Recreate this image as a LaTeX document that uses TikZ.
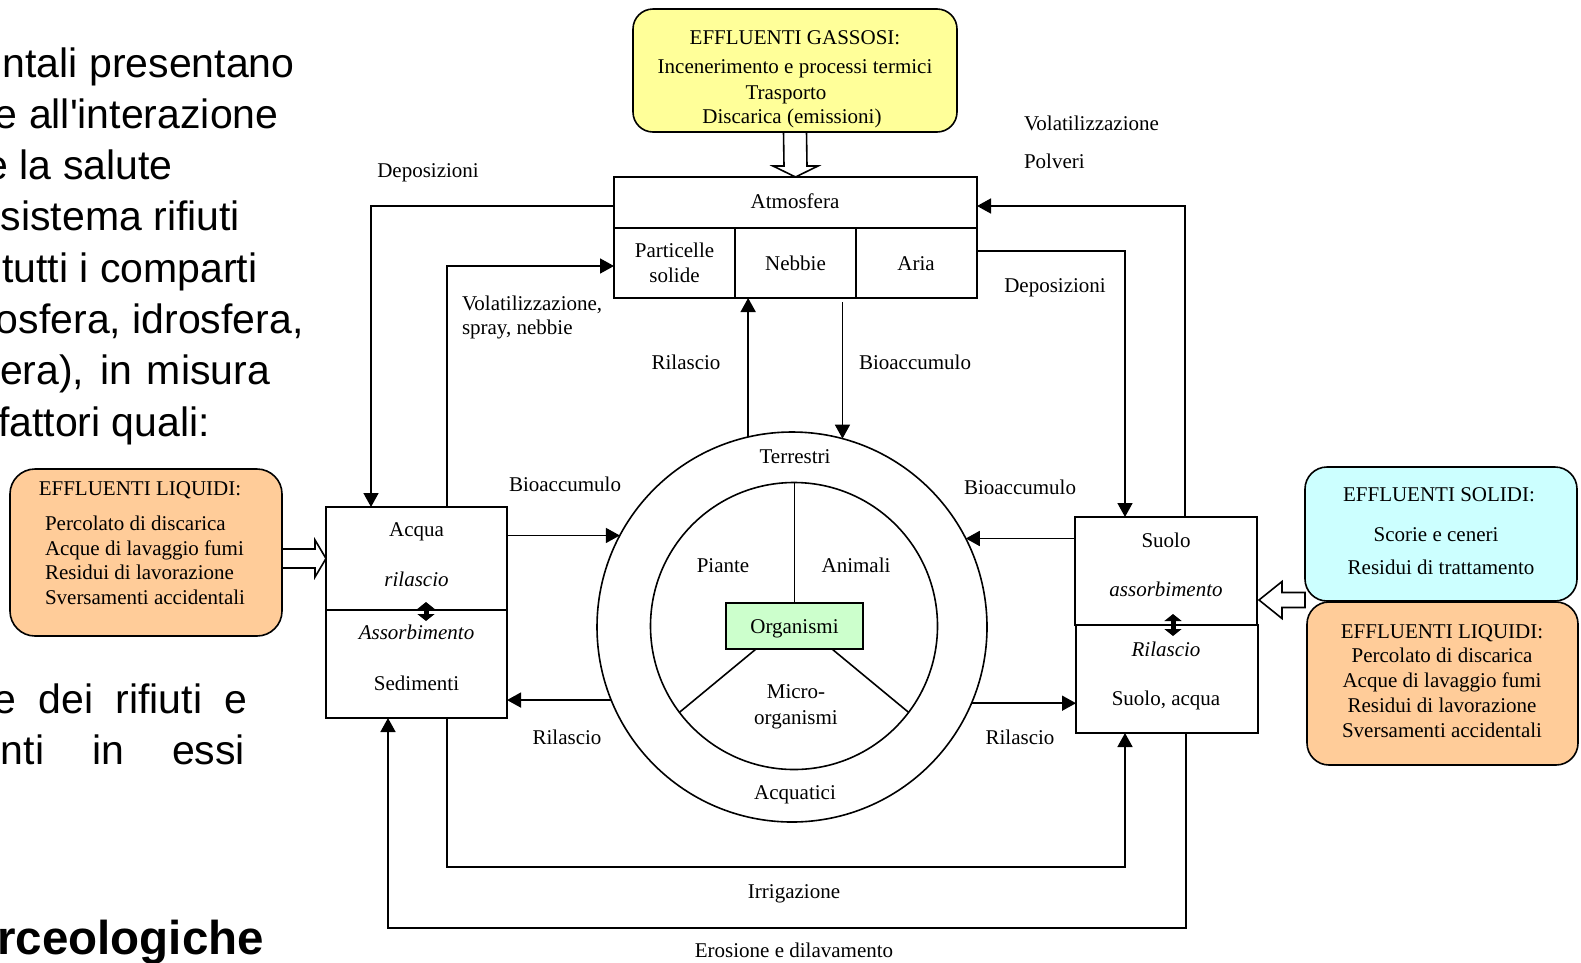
\documentclass[tikz,border=0pt]{standalone}
\usepackage{fontspec}
\setmainfont{Liberation Serif}
\newfontfamily\slidefont{Liberation Sans}
\usetikzlibrary{arrows.meta,calc}

\definecolor{gasfill}{HTML}{FFFF99}
\definecolor{liqfill}{HTML}{FFCC99}
\definecolor{solfill}{HTML}{CCFFFF}
\definecolor{orgfill}{HTML}{CCFFCC}

\pgfdeclarelayer{paper}
\pgfdeclarelayer{under}
\pgfsetlayers{paper,under,main}

\begin{document}
\begin{tikzpicture}[x=1pt,y=-1pt,
  every node/.style={inner sep=0pt, outer sep=0pt},
  lbl/.style={font=\fontsize{21}{25}\selectfont, anchor=base},
  lblw/.style={lbl, anchor=base west},
  it/.style={lbl, font=\fontsize{21}{25}\selectfont\itshape},
  cell/.style={draw, line width=1.6pt, rectangle, anchor=north west},
  rbox/.style={draw, line width=1.6pt, rounded corners=22pt, anchor=north west},
  conn/.style={line width=1.6pt, -{Triangle[length=14pt,width=15pt]}},
  plain/.style={line width=1.6pt},
  hollow/.style={draw, line width=1.6pt, fill=white},
  dbl/.style={line width=5pt, {Triangle[length=7pt,width=17pt]}-{Triangle[length=7pt,width=17pt]}},
  body/.style={font=\slidefont\fontsize{41}{52}\selectfont, anchor=base east},
]
\begin{pgfonlayer}{paper}
\fill[white] (0,0) rectangle (1581,962);
\end{pgfonlayer}
\useasboundingbox (0,0) rectangle (1581,962);

% ---- slide body text (runs off the left edge) ----
\node[body] (p1) at (294.5,77)   {ntali presentano};
\node[body] (p2) at (278.5,128.3) {e all'interazione};
\node[body] (p3) at (172.5,179.6) {e la salute};
\node[body] (p4) at (240,230.9)  {sistema rifiuti};
\node[body] (p5) at (257.5,282.2) {tutti i comparti};
\node[body] (p6) at (303.5,333.5) {osfera, idrosfera,};
\node[body, anchor=base west] (p7) at (0,384.8) {\makebox[270pt][s]{era), in misura}};
\node[body] (p8) at (210,436.1)  {fattori quali:};
\node[body, anchor=base west] (q1) at (-6,713) {\makebox[253pt][s]{e dei rifiuti e}};
\node[body, anchor=base west] (q2) at (1,764)  {\makebox[244pt][s]{nti in essi}};
\node[font=\slidefont\bfseries\fontsize{47.5}{52}\selectfont, anchor=base east] (ttl) at (264,954) {rceologiche};

% ---- compartments ----
\node[cell, minimum width=363pt, minimum height=51pt]  (atm)  at (614,177) {};
\node[cell, minimum width=121pt, minimum height=70pt]  (part) at (614,228) {};
\node[cell, minimum width=121pt, minimum height=70pt]  (neb)  at (735,228) {};
\node[cell, minimum width=121pt, minimum height=70pt]  (aria) at (856,228) {};
\node[cell, minimum width=181pt, minimum height=103pt] (acqua) at (326,507) {};
\node[cell, minimum width=181pt, minimum height=108pt] (sed)   at (326,610) {};
\node[cell, minimum width=182pt, minimum height=108pt] (suolo)  at (1075,517) {};
\node[cell, minimum width=182pt, minimum height=108pt] (suolo2) at (1076,625) {};

% ---- organisms ----
\node[draw, circle, line width=1.6pt, minimum size=390pt] (outer) at (792,627) {};
\node[draw, circle, line width=1.6pt, minimum size=287pt] (inner) at (794,626) {};
\node[draw, fill=orgfill, line width=1.6pt, minimum width=137pt, minimum height=46pt] (org) at (794.5,626) {};
\draw[plain] (org.north) -- (org.north |- inner.north);
\draw[plain] ($(org.south)+(-38.5,0)$) -- (inner.217);
\draw[plain] ($(org.south)+(37.5,0)$) -- (inner.323);

% ---- effluent sources ----
\node[rbox, fill=gasfill, minimum width=324pt, minimum height=123pt, rounded corners=20pt] (gas) at (633,9) {};
\node[lbl] (gas0) at (795,44)  {EFFLUENTI GASSOSI:};
\node[lbl] (gas1) at (795,73)  {Incenerimento e processi termici};
\node[lbl] (gas2) at (786,99)  {Trasporto};
\node[lbl] (gas3) at (792,123) {Discarica (emissioni)};

\node[rbox, fill=liqfill, minimum width=272pt, minimum height=167pt, rounded corners=25pt] (liqL) at (10,469) {};
\node[lbl]  (liqL0) at (140,495) {EFFLUENTI LIQUIDI:};
\node[lblw] (liqL1) at (45,530) {Percolato di discarica};
\node[lblw] (liqL2) at (45,555) {Acque di lavaggio fumi};
\node[lblw] (liqL3) at (45,579) {Residui di lavorazione};
\node[lblw] (liqL4) at (45,604) {Sversamenti accidentali};

\node[rbox, fill=solfill, minimum width=272pt, minimum height=134pt] (sol) at (1305,467) {};
\node[lbl] (sol0) at (1439,501) {EFFLUENTI SOLIDI:};
\node[lbl] (sol1) at (1436,541) {Scorie e ceneri};
\node[lbl] (sol2) at (1441,574) {Residui di trattamento};

\node[rbox, fill=liqfill, minimum width=271pt, minimum height=163pt] (liqR) at (1307,602) {};
\node[lbl] (liqR0) at (1442,638) {EFFLUENTI LIQUIDI:};
\node[lbl] (liqR1) at (1442,662) {Percolato di discarica};
\node[lbl] (liqR2) at (1442,687) {Acque di lavaggio fumi};
\node[lbl] (liqR3) at (1442,712) {Residui di lavorazione};
\node[lbl] (liqR4) at (1442,737) {Sversamenti accidentali};

% ---- hollow arrows from the effluent sources (tucked under the boxes) ----
\begin{pgfonlayer}{under}
\draw[hollow] ($(gas.south)+(-11.5,0)$) -- ($(atm.north)+(-11.5,-11)$) -- ++(-11,0)
  -- (atm.north) -- ++(22.5,-11) -- ++(-11,0) -- ($(gas.south)+(11.5,0)$) -- cycle;
\draw[hollow] (acqua.west) -- ++(-11,-18.5) -- ++(0,9) -- ++(-33,0) -- ++(0,19)
  -- ++(33,0) -- ++(0,9) -- cycle;
\draw[hollow] ($(suolo.south east)+(2,-25)$) -- ++(23,-18.5) -- ++(0,11) -- ++(23,0)
  -- ++(0,15) -- ++(-23,0) -- ++(0,11) -- cycle;
\end{pgfonlayer}

% ---- compartment texts ----
\node[lbl] (tatm)  at (795,208)   {Atmosfera};
\node[lbl] (tpa1)  at (674.5,257) {Particelle};
\node[lbl] (tpa2)  at (674.5,282) {solide};
\node[lbl] (tneb)  at (795.5,270) {Nebbie};
\node[lbl] (taria) at (916,270)   {Aria};

\node[lbl] (tacq)  at (416.5,536) {Acqua};
\node[it]  (tril)  at (416.5,586) {rilascio};
\node[it]  (tass)  at (416.5,639) {Assorbimento};
\node[lbl] (tsed)  at (416.5,690) {Sedimenti};

\node[lbl] (tsuo)  at (1166,547) {Suolo};
\node[it]  (tsass) at (1166,596) {assorbimento};
\node[it]  (tsril) at (1166,656) {Rilascio};
\node[lbl] (tsuoa) at (1166,705) {Suolo, acqua};

\node[lbl] (tterr) at (795,463) {Terrestri};
\node[lbl] (tpian) at (723,572) {Piante};
\node[lbl] (tanim) at (856,572) {Animali};
\node[lbl] (torg)  at (794.5,633) {Organismi};
\node[lbl] (tmic1) at (796,698) {Micro-};
\node[lbl] (tmic2) at (796,724) {organismi};
\node[lbl] (tacqt) at (795,799) {Acquatici};

% ---- exchanges between water and sediments, soil layers ----
\draw[dbl] ($(acqua.south)+(9.5,-8)$) -- ($(acqua.south)+(9.5,11)$);
\draw[dbl] ($(suolo.south)+(7,-11)$) -- ($(suolo.south)+(7,11)$);

% ---- fluxes ----
\draw[conn] ([yshift=-29pt]atm.north west) -| ([xshift=45pt]acqua.north west);
\draw[conn] ([xshift=121pt]acqua.north west) |- ([yshift=-38pt]part.north west);
\draw[conn] ([xshift=110pt]suolo.north west) |- ([yshift=-29pt]atm.north east);
\draw[conn] ([yshift=-23pt]aria.north east) -| ([xshift=50pt]suolo.north west);
\draw[conn] (outer.103.3) -- (outer.103.3 |- neb.south);
\draw[conn] ($(outer.75.1 |- neb.south)+(0,4)$) -- (outer.75.1);
\draw[conn] (acqua.east |- outer.152.2) -- (outer.152.2);
\draw[conn] (suolo.west |- outer.27.8) -- (outer.27.8);
\draw[conn] (outer.202.6) -- (sed.east |- outer.202.6);
\draw[conn] (outer.337.4) -- (suolo2.west |- outer.337.4);
\draw[conn] ([xshift=121pt]sed.south west) -- ++(0,149) -| ([xshift=49pt]suolo2.south west);
\draw[conn] ([xshift=110pt]suolo2.south west) -- ++(0,195) -| ([xshift=62pt]sed.south west);

% ---- flux labels ----
\node[lbl]  (ldep1) at (428,177)  {Deposizioni};
\node[lblw] (lvol1) at (462,310)  {Volatilizzazione,};
\node[lblw] (lvol2) at (462,334)  {spray, nebbie};
\node[lblw] (lvol3) at (1024,130) {Volatilizzazione};
\node[lblw] (lpol)  at (1024,168) {Polveri};
\node[lbl]  (ldep2) at (1055,292) {Deposizioni};
\node[lbl]  (lril1) at (686,369)  {Rilascio};
\node[lbl]  (lbio1) at (915,369)  {Bioaccumulo};
\node[lbl]  (lbio2) at (565,491)  {Bioaccumulo};
\node[lbl]  (lbio3) at (1020,494) {Bioaccumulo};
\node[lbl]  (lril2) at (567,744)  {Rilascio};
\node[lbl]  (lril3) at (1020,744) {Rilascio};
\node[lbl]  (lirr)  at (794,898)  {Irrigazione};
\node[lbl]  (lero)  at (794,957)  {Erosione e dilavamento};
\end{tikzpicture}
\end{document}
